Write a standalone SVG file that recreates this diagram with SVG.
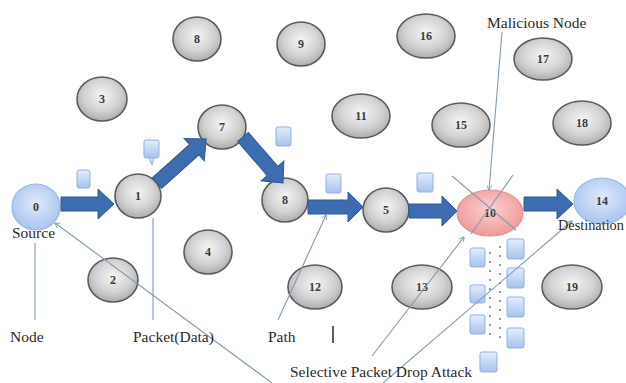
<svg xmlns="http://www.w3.org/2000/svg" width="626" height="383" viewBox="0 0 626 383">
<defs>
  <radialGradient id="gGray" cx="50%" cy="42%" r="60%">
    <stop offset="0" stop-color="#f5f5f5"/>
    <stop offset="0.6" stop-color="#d2d2d2"/>
    <stop offset="1" stop-color="#a9a9a9"/>
  </radialGradient>
  <radialGradient id="gBlue" cx="50%" cy="42%" r="60%">
    <stop offset="0" stop-color="#dfeafb"/>
    <stop offset="1" stop-color="#a7c3ee"/>
  </radialGradient>
  <radialGradient id="gRed" cx="50%" cy="42%" r="60%">
    <stop offset="0" stop-color="#fcd0d0"/>
    <stop offset="1" stop-color="#ef9797"/>
  </radialGradient>
  <linearGradient id="gPkt" x1="0" y1="0" x2="0" y2="1">
    <stop offset="0" stop-color="#e4eefc"/>
    <stop offset="1" stop-color="#a6c2ee"/>
  </linearGradient>
  <marker id="ah" viewBox="0 0 10 10" refX="9" refY="5" markerWidth="5" markerHeight="5" orient="auto">
    <path d="M0,0 L10,5 L0,10" fill="none" stroke="#7f9ab8" stroke-width="1.5"/>
  </marker>
  <style>
    .n ellipse{fill:url(#gGray);stroke:#5c5c5c;stroke-width:1.6}
    .n.blue ellipse{fill:url(#gBlue);stroke:#9ab8e4;stroke-width:1.2}
    .n.red ellipse{fill:url(#gRed);stroke:#e49090;stroke-width:1.2}
    .n text{font-family:"Liberation Serif",serif;font-size:12px;font-weight:bold;fill:#3a3a3a;text-anchor:middle}
    .lbl{font-family:"Liberation Serif",serif;font-size:15.5px;fill:#2a2a2a}
    .arr{fill:#3c6db0;stroke:#2b5a96;stroke-width:1}
    .pkt{fill:url(#gPkt);stroke:#93b1df;stroke-width:1}
    .ln{stroke:#8199b5;stroke-width:1.1;fill:none}
    .dash{stroke:#555;stroke-width:1.2;stroke-dasharray:2 7;fill:none}
  </style>
</defs>
<rect width="626" height="383" fill="#ffffff"/>

<g id="nodes">
  <g id="node-0" class="n blue"><ellipse cx="36" cy="207" rx="24" ry="23"/><text x="36" y="211">0</text></g>
  <g id="node-1" class="n"><ellipse cx="138" cy="196" rx="23" ry="22"/><text x="138" y="200">1</text></g>
  <g id="node-2" class="n"><ellipse cx="113" cy="280" rx="25" ry="22"/><text x="113" y="284">2</text></g>
  <g id="node-3" class="n"><ellipse cx="102" cy="99" rx="25" ry="22"/><text x="102" y="103">3</text></g>
  <g id="node-4" class="n"><ellipse cx="208" cy="252" rx="24" ry="22"/><text x="208" y="256">4</text></g>
  <g id="node-8top" class="n"><ellipse cx="197" cy="39" rx="24" ry="22"/><text x="197" y="43">8</text></g>
  <g id="node-9" class="n"><ellipse cx="301" cy="44" rx="24" ry="22"/><text x="301" y="48">9</text></g>
  <g id="node-7" class="n"><ellipse cx="222" cy="127" rx="24" ry="22"/><text x="222" y="131">7</text></g>
  <g id="node-8" class="n"><ellipse cx="285" cy="200" rx="23" ry="22"/><text x="285" y="204">8</text></g>
  <g id="node-11" class="n"><ellipse cx="361" cy="116" rx="29" ry="22"/><text x="361" y="120">11</text></g>
  <g id="node-16" class="n"><ellipse cx="426" cy="36" rx="29" ry="22"/><text x="426" y="40">16</text></g>
  <g id="node-15" class="n"><ellipse cx="461" cy="125" rx="29" ry="22"/><text x="461" y="129">15</text></g>
  <g id="node-17" class="n"><ellipse cx="543" cy="59" rx="29" ry="21"/><text x="543" y="63">17</text></g>
  <g id="node-18" class="n"><ellipse cx="582" cy="123" rx="29" ry="22"/><text x="582" y="127">18</text></g>
  <g id="node-5" class="n"><ellipse cx="386" cy="210" rx="23" ry="22"/><text x="386" y="214">5</text></g>
  <g id="node-10" class="n red"><ellipse cx="490" cy="213" rx="33" ry="23"/><text x="490" y="217">10</text></g>
  <g id="node-14" class="n blue"><ellipse cx="602" cy="201" rx="28" ry="23"/><text x="602" y="205">14</text></g>
  <g id="node-12" class="n"><ellipse cx="315" cy="287" rx="27" ry="22"/><text x="315" y="291">12</text></g>
  <g id="node-13" class="n"><ellipse cx="422" cy="287" rx="30" ry="22"/><text x="422" y="291">13</text></g>
  <g id="node-19" class="n"><ellipse cx="572" cy="287" rx="30" ry="22"/><text x="572" y="291">19</text></g>
</g>

<g id="path-arrows">
  <polygon class="arr" transform="translate(61,204)" points="0,-7 37,-7 37,-15 53,0 37,15 37,7 0,7"/>
  <polygon class="arr" transform="translate(157,183) rotate(-41.9)" points="0,-7 50,-7 50,-15 66,0 50,15 50,7 0,7"/>
  <polygon class="arr" transform="translate(243,137) rotate(49)" points="0,-7 45,-7 45,-15 61,0 45,15 45,7 0,7"/>
  <polygon class="arr" transform="translate(308,207)" points="0,-7 40,-7 40,-15 55,0 40,15 40,7 0,7"/>
  <polygon class="arr" transform="translate(409,211)" points="0,-7 33,-7 33,-15 48,0 33,15 33,7 0,7"/>
  <polygon class="arr" transform="translate(524,204)" points="0,-7 33,-7 33,-15 49,0 33,15 33,7 0,7"/>
</g>

<g id="packets">
  <rect class="pkt" x="77" y="170" width="13" height="18" rx="2"/>
  <rect class="pkt" x="144" y="140" width="15" height="18" rx="2"/>
  <path class="pkt" d="M149,158 L152,165 L154,158 Z"/>
  <rect class="pkt" x="276" y="127" width="15" height="19" rx="2"/>
  <rect class="pkt" x="326" y="174" width="15" height="19" rx="2"/>
  <rect class="pkt" x="417" y="173" width="16" height="19" rx="2"/>
  <rect class="pkt" x="470" y="248" width="15" height="19" rx="2"/>
  <rect class="pkt" x="470" y="285" width="15" height="18" rx="2"/>
  <rect class="pkt" x="470" y="315" width="15" height="19" rx="2"/>
  <rect class="pkt" x="507" y="239" width="17" height="20" rx="2"/>
  <rect class="pkt" x="507" y="268" width="17" height="20" rx="2"/>
  <rect class="pkt" x="507" y="297" width="17" height="20" rx="2"/>
  <rect class="pkt" x="507" y="328" width="17" height="20" rx="2"/>
  <rect class="pkt" x="480" y="352" width="17" height="20" rx="2"/>
</g>

<g id="connectors">
  <line class="dash" x1="490" y1="252" x2="490" y2="342"/>
  <line class="dash" x1="500" y1="246" x2="500" y2="338"/>
  <line class="ln" x1="35" y1="243" x2="35" y2="320"/>
  <line class="ln" x1="153" y1="218" x2="153" y2="320"/>
  <line class="ln" x1="278" y1="320" x2="326" y2="215" marker-end="url(#ah)"/>
  <line class="ln" x1="272" y1="383" x2="55" y2="223" marker-end="url(#ah)"/>
  <line class="ln" x1="372" y1="356" x2="464" y2="237" marker-end="url(#ah)"/>
  <line class="ln" x1="383" y1="383" x2="572" y2="221" marker-end="url(#ah)"/>
  <line class="ln" x1="502" y1="32" x2="489" y2="190" marker-end="url(#ah)"/>
  <line class="ln" x1="452" y1="176" x2="516" y2="230"/>
  <line class="ln" x1="513" y1="175" x2="471" y2="234"/>
  <line x1="333" y1="326" x2="333" y2="343" stroke="#333" stroke-width="1.6"/>
</g>

<g id="labels">
  <text class="lbl" x="487" y="28">Malicious Node</text>
  <text class="lbl" x="12" y="238">Source</text>
  <text class="lbl" x="558" y="230" style="font-size:14.3px">Destination</text>
  <text class="lbl" x="10" y="342">Node</text>
  <text class="lbl" x="133" y="342">Packet(Data)</text>
  <text class="lbl" x="268" y="342">Path</text>
  <text class="lbl" x="290" y="377">Selective Packet Drop Attack</text>
</g>
</svg>
